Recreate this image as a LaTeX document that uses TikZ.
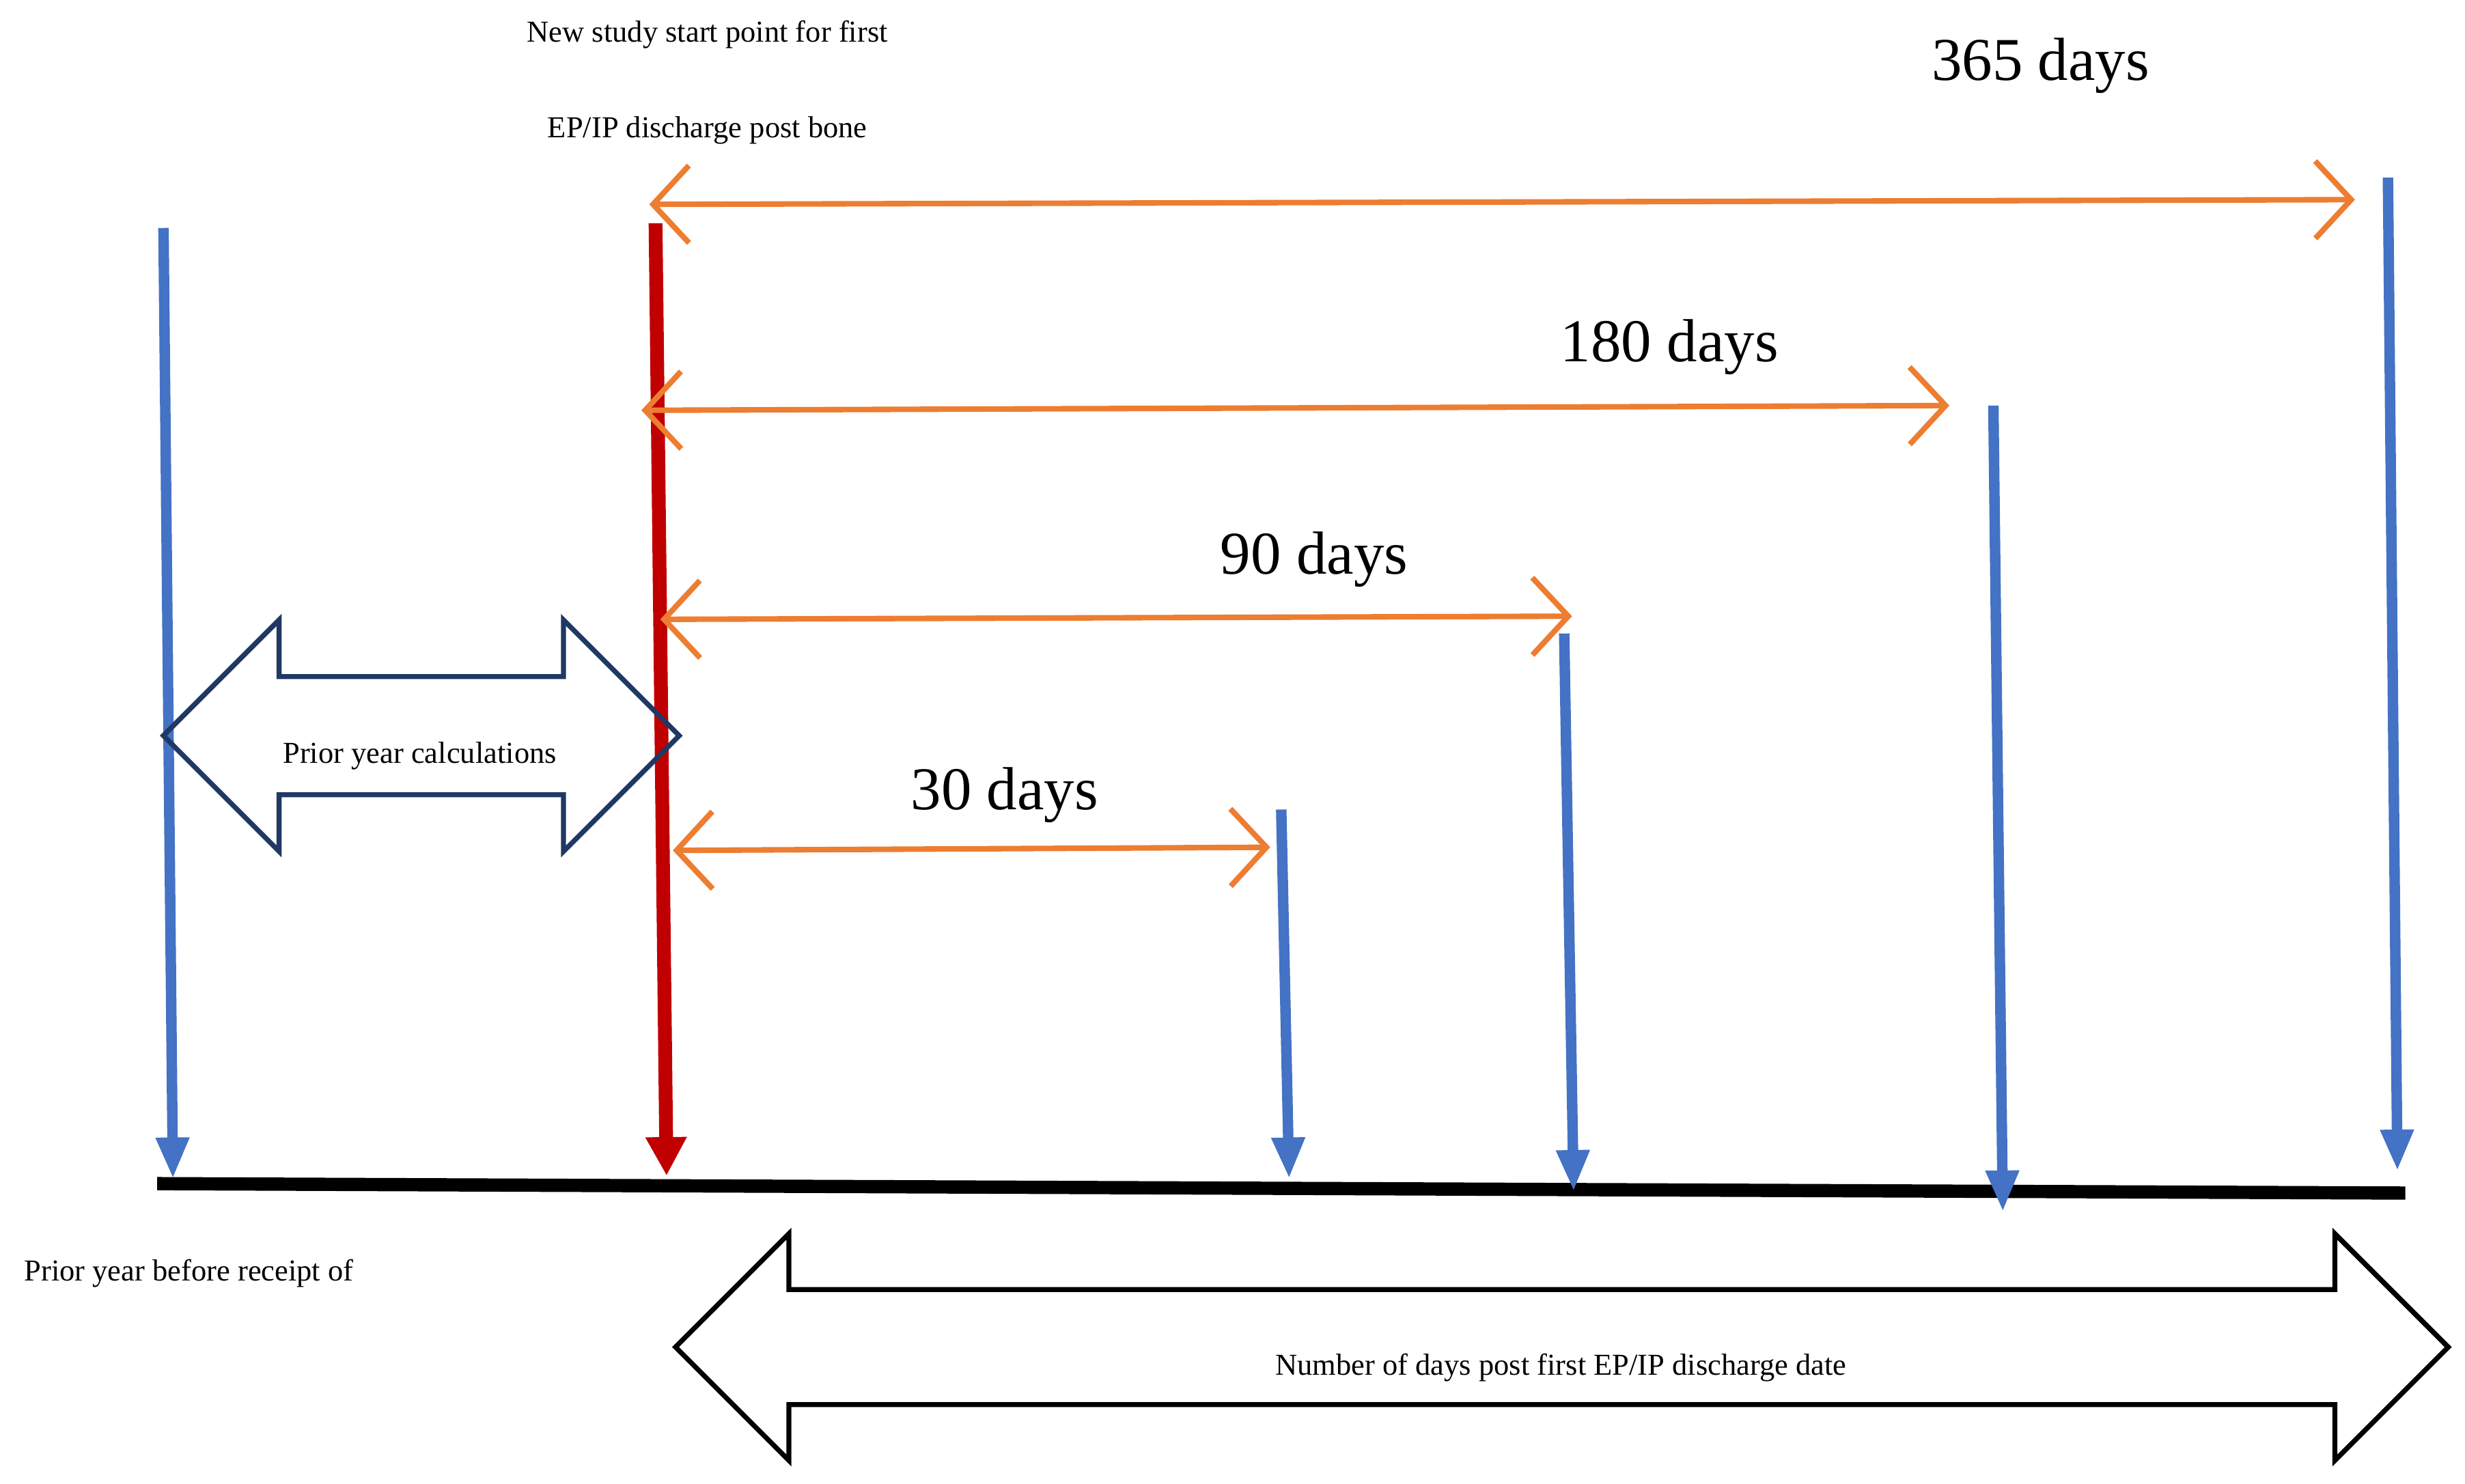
\documentclass[tikz,border=0pt]{standalone}
\usepackage{fontspec}
\setmainfont{Liberation Serif}
\usetikzlibrary{arrows.meta,shapes.arrows}
\definecolor{tickblue}{HTML}{4472C4}
\definecolor{startred}{HTML}{C00000}
\definecolor{spanorange}{HTML}{ED7D31}
\definecolor{calcnavy}{HTML}{1F3864}
\begin{document}
\begin{tikzpicture}
  [x=0.01cm,y=-0.01cm,
   tickline/.style={draw=tickblue,line width=1.9pt,
                    -{Triangle[length=7.5pt,width=5.6pt]}},
   startline/.style={draw=startred,line width=2.5pt,
                     -{Triangle[length=7pt,width=7pt]}},
   spanline/.style={draw=spanorange,line width=1pt,
                    {Straight Barb[length=6.5pt,width=14pt]}-{Straight Barb[length=6.5pt,width=14pt]}},
   timeline/.style={draw=black,line width=2.4pt},
   period/.style={double arrow,draw=black,line width=0.9pt,inner xsep=0pt,
                  inner ysep=0.36cm,double arrow head extend=0.36cm},
   days/.style={font=\fontsize{11}{13}\selectfont},
   note/.style={font=\fontsize{5.5}{6.5}\selectfont}]
  \useasboundingbox (0,0) rectangle (1568,944);
  % end points of the time marks
  \coordinate (t0top) at (104,145);   \coordinate (t0end) at (110,750);
  \coordinate (sttop) at (417,142);   \coordinate (stend) at (424,748);
  \coordinate (t30top) at (815,515);  \coordinate (t30end) at (820,750);
  \coordinate (t90top) at (995,403);  \coordinate (t90end) at (1001,758);
  \coordinate (t180top) at (1268,258); \coordinate (t180end) at (1274,771);
  \coordinate (t365top) at (1519,113); \coordinate (t365end) at (1525,745);
  \coordinate (lineleft) at (100,753); \coordinate (lineright) at (1530,759);
  % spans
  \coordinate (s365a) at (413,130); \coordinate (s365b) at (1498,127);
  \coordinate (s180a) at (408,261); \coordinate (s180b) at (1240,258);
  \coordinate (s90a) at (420,394);  \coordinate (s90b) at (1000,392);
  \coordinate (s30a) at (428,541);  \coordinate (s30b) at (808,539);
  % labels
  \node[note] (start1) at (450,22) {New study start point for first};
  \node[note] (start2) at (450,83) {EP/IP discharge post bone};
  \node[note,anchor=west] (prioryear) at (3,810) {Prior year before receipt of};
  \node[days] (d365) at (1298,42) {365 days};
  \node[days] (d180) at (1062,221) {180 days};
  \node[days] (d90) at (836,356) {90 days};
  \node[days] (d30) at (639,506) {30 days};
  \draw[timeline] (lineleft) -- (lineright);
  \draw[tickline] (t0top) -- (t0end);
  \draw[tickline] (t30top) -- (t30end);
  \draw[tickline] (t90top) -- (t90end);
  \draw[tickline] (t180top) -- (t180end);
  \draw[tickline] (t365top) -- (t365end);
  \draw[startline] (sttop) -- (stend);
  \draw[spanline] (s365a) -- (s365b);
  \draw[spanline] (s180a) -- (s180b);
  \draw[spanline] (s90a) -- (s90b);
  \draw[spanline] (s30a) -- (s30b);
  % period arrows
  \node[period,draw=calcnavy,minimum height=3.28cm,minimum width=1.44cm]
    (calc) at (268,468) {};
  \node[note] (calctext) at (267,481) {Prior year calculations};
  \node[period,minimum height=11.27cm,minimum width=1.41cm,inner ysep=0.35cm,
        double arrow head extend=0.355cm] (postdays) at (993.5,857) {};
  \node[note] (posttext) at (993,870) {Number of days post first EP/IP discharge date};
\end{tikzpicture}
\end{document}
